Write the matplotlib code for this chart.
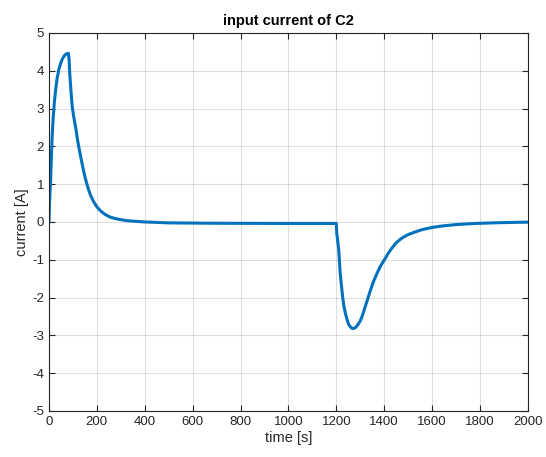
import numpy as np
import matplotlib
matplotlib.use('Agg')
import matplotlib.pyplot as plt

# values
t_rise = [0, 2, 4, 7, 11, 14, 18, 23, 28, 34, 41, 48, 55, 62, 69, 75, 81]
i_rise = [0, 0.4, 0.75, 1.1, 1.9, 2.35, 2.8, 3.2, 3.5, 3.8, 4.03, 4.18, 4.3, 4.38, 4.43, 4.45, 4.46]

t_decay = [84, 87, 92, 97, 103, 108, 113, 118, 124, 131, 138, 145, 152, 162, 172, 186, 200, 216, 234, 255, 276, 300, 331, 400, 500, 700, 1000, 1200]
i_decay = [4.3, 3.9, 3.45, 3.05, 2.8, 2.62, 2.44, 2.22, 2.0, 1.77, 1.55, 1.34, 1.15, 0.92, 0.73, 0.54, 0.4, 0.29, 0.2, 0.13, 0.09, 0.06, 0.03, 0.0, -0.025, -0.035, -0.04, -0.04]

t_dip = [1202, 1206, 1210, 1216, 1221, 1226, 1231, 1237, 1244, 1251, 1258, 1265, 1272, 1279, 1285, 1292, 1299, 1306, 1313, 1327, 1340, 1354, 1368, 1382, 1393, 1405, 1417, 1430, 1449, 1471, 1498, 1527, 1555, 1582, 1615, 1651, 1700, 1780, 1880, 2000]
i_dip = [-0.3, -0.52, -0.71, -1.33, -1.65, -1.95, -2.2, -2.39, -2.56, -2.7, -2.77, -2.81, -2.82, -2.8, -2.76, -2.7, -2.63, -2.53, -2.4, -2.12, -1.86, -1.6, -1.39, -1.2, -1.08, -0.96, -0.83, -0.71, -0.56, -0.44, -0.34, -0.27, -0.21, -0.17, -0.13, -0.1, -0.07, -0.04, -0.02, -0.005]

t = np.array(t_rise + t_decay + t_dip)
current = np.array(i_rise + i_decay + i_dip)

plt.rcParams['font.family'] = ['Liberation Sans', 'DejaVu Sans']
plt.rcParams['axes.unicode_minus'] = False

fig = plt.figure(figsize=(5.46, 4.57), dpi=100)
ax = fig.add_axes([0.0897, 0.1007, 0.877, 0.8273])

ax.plot(t, current, color='#0072BD', linewidth=2.2, solid_joinstyle='round')

ax.set_xlim(0, 2000)
ax.set_ylim(-5, 5)
ax.set_xticks(np.arange(0, 2001, 200))
ax.set_yticks(np.arange(-5, 6, 1))
ax.grid(True, color='0.15', alpha=0.15, linewidth=0.8)
ax.tick_params(direction='in', top=True, right=True, labelsize=9.5,
               colors='0.15', length=4, width=0.8)
for s in ax.spines.values():
    s.set_color('0.15')
    s.set_linewidth(0.8)

ax.set_xlabel('time [s]', fontsize=10.5, color='0.15', labelpad=2)
ax.set_ylabel('current [A]', fontsize=10.5, color='0.15', labelpad=2)
ax.set_title('input current of C2', fontsize=10.5, fontweight='bold', pad=6)

fig.savefig('out.png', dpi=100)
